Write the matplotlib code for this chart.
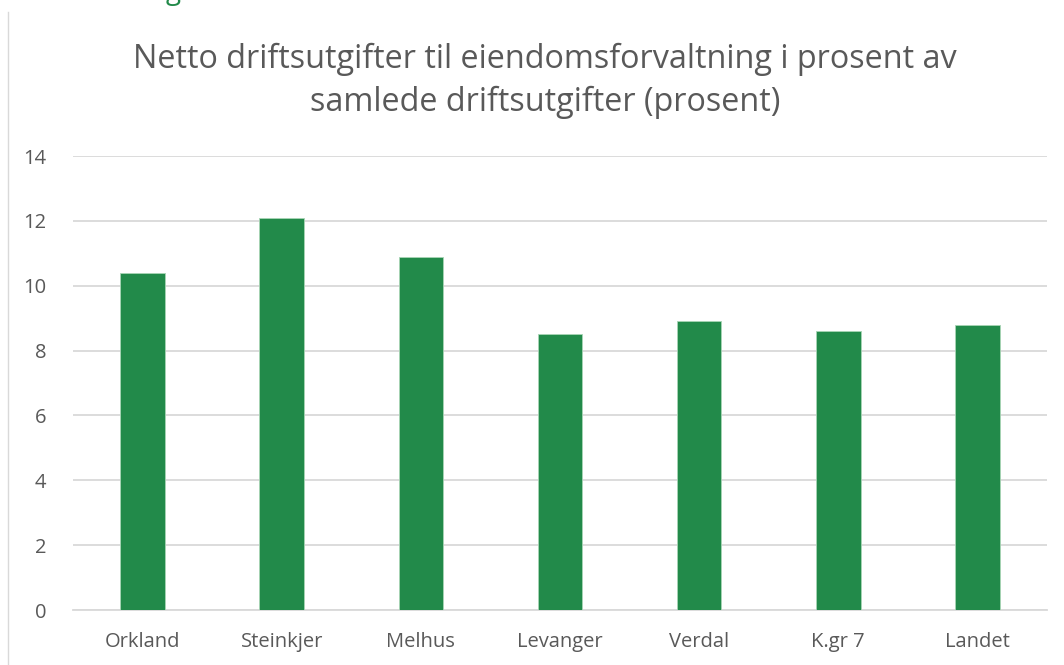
import numpy as np
from matplotlib import pyplot as plt
from matplotlib.lines import Line2D

kommuner = ["Orkland", "Steinkjer", "Melhus", "Levanger", "Verdal", "K.gr 7", "Landet"]
prosent = [10.4, 12.1, 10.9, 8.5, 8.9, 8.6, 8.8]
yticks = [0, 2, 4, 6, 8, 10, 12, 14]

plt.rcParams['font.family'] = ['Open Sans', 'DejaVu Sans']
grey = '#595959'

fig = plt.figure(figsize=(10.64, 6.65), dpi=100)
ax = fig.add_axes([73/1064, 1-610/665, 974/1064, 454/665])

x = np.arange(len(kommuner))
ax.bar(x, prosent, width=0.32, color='#228a4a', edgecolor='#a8d5b5', linewidth=0.6, zorder=3)

ax.set_xlim(-0.5, len(kommuner) - 0.5)
ax.set_ylim(0, 14)
ax.set_yticks(yticks)
ax.set_xticks(x)
ax.set_xticklabels(kommuner)
ax.grid(axis='y', color='#d9d9d9', linewidth=1.3, zorder=0)
for s in ['top', 'right', 'left']:
    ax.spines[s].set_visible(False)
ax.spines['bottom'].set_color('#d9d9d9')
ax.spines['bottom'].set_linewidth(1.3)
ax.tick_params(axis='both', length=0, colors=grey, labelsize=14.5)
ax.tick_params(axis='x', pad=16)
ax.tick_params(axis='y', pad=19)

fig.text(545/1064, 1-81/665, "Netto driftsutgifter til eiendomsforvaltning i prosent av\nsamlede driftsutgifter (prosent)",
         ha='center', va='center', fontsize=23.3, color=grey, linespacing=1.36)

# venstre ramme og rest av overskrift over diagrammet
fig.add_artist(Line2D([8/1064, 8/1064], [0, 1-12/665], transform=fig.transFigure, color='#d9d9d9', linewidth=1))
fig.text(150/1064, 1+8/665, "ng", ha='left', va='center', fontsize=20, color='#228a4a')

plt.savefig('out.png', dpi=100)
